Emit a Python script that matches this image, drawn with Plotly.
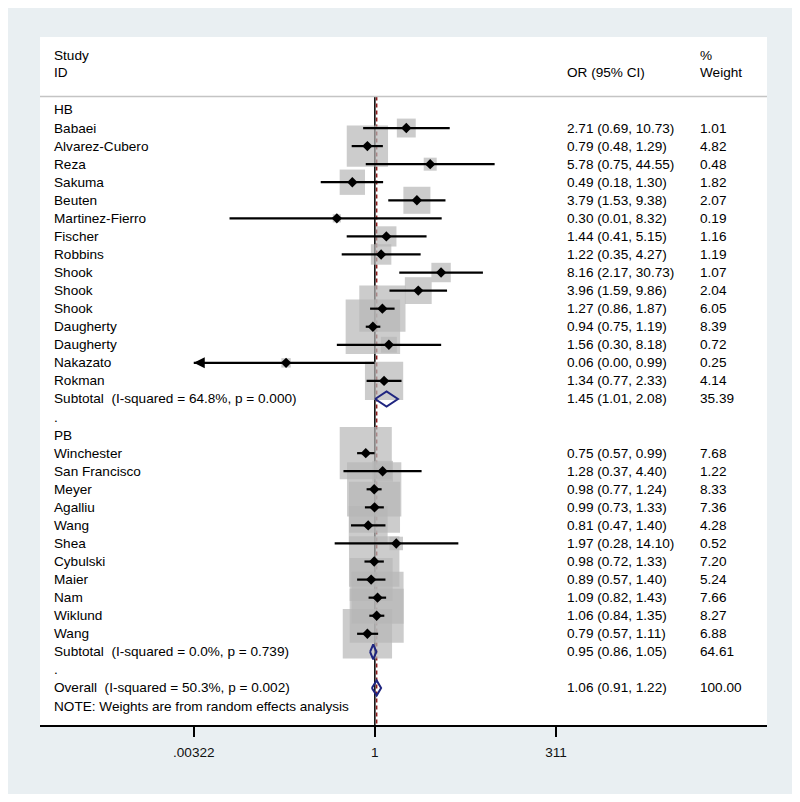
import numpy as np
import plotly.graph_objects as go

# --- data ---
hb_names = ["Babaei", "Alvarez-Cubero", "Reza", "Sakuma", "Beuten", "Martinez-Fierro",
            "Fischer", "Robbins", "Shook", "Shook", "Shook", "Daugherty", "Daugherty",
            "Nakazato", "Rokman"]
hb_or = [2.71, 0.79, 5.78, 0.49, 3.79, 0.30, 1.44, 1.22, 8.16, 3.96, 1.27, 0.94, 1.56, 0.06, 1.34]
hb_lo = [0.69, 0.48, 0.75, 0.18, 1.53, 0.01, 0.41, 0.35, 2.17, 1.59, 0.86, 0.75, 0.30, 0.00, 0.77]
hb_hi = [10.73, 1.29, 44.55, 1.30, 9.38, 8.32, 5.15, 4.27, 30.73, 9.86, 1.87, 1.19, 8.18, 0.99, 2.33]
hb_w = [1.01, 4.82, 0.48, 1.82, 2.07, 0.19, 1.16, 1.19, 1.07, 2.04, 6.05, 8.39, 0.72, 0.25, 4.14]
hb_sub = (1.45, 1.01, 2.08, 35.39, "Subtotal  (I-squared = 64.8%, p = 0.000)")

pb_names = ["Winchester", "San Francisco", "Meyer", "Agalliu", "Wang", "Shea", "Cybulski",
            "Maier", "Nam", "Wiklund", "Wang"]
pb_or = [0.75, 1.28, 0.98, 0.99, 0.81, 1.97, 0.98, 0.89, 1.09, 1.06, 0.79]
pb_lo = [0.57, 0.37, 0.77, 0.73, 0.47, 0.28, 0.72, 0.57, 0.82, 0.84, 0.57]
pb_hi = [0.99, 4.40, 1.24, 1.33, 1.40, 14.10, 1.33, 1.40, 1.43, 1.35, 1.11]
pb_w = [7.68, 1.22, 8.33, 7.36, 4.28, 0.52, 7.20, 5.24, 7.66, 8.27, 6.88]
pb_sub = (0.95, 0.86, 1.05, 64.61, "Subtotal  (I-squared = 0.0%, p = 0.739)")

overall = (1.06, 0.91, 1.22, 100.00, "Overall  (I-squared = 50.3%, p = 0.002)")

tick_vals = [0.00322, 1, 311]
tick_text = [".00322", "1", "311"]

# --- build rows ---
rows = []
def add_group(title, names, ors, los, his, ws, sub):
    rows.append(dict(kind="label", text=title))
    for n, o, l, h, w in zip(names, ors, los, his, ws):
        rows.append(dict(kind="study", text=n, est=o, lo=l, hi=h, w=w))
    rows.append(dict(kind="pooled", text=sub[4], est=sub[0], lo=sub[1], hi=sub[2], w=sub[3]))
    rows.append(dict(kind="label", text="."))

add_group("HB", hb_names, hb_or, hb_lo, hb_hi, hb_w, hb_sub)
add_group("PB", pb_names, pb_or, pb_lo, pb_hi, pb_w, pb_sub)
rows.append(dict(kind="pooled", text=overall[4], est=overall[0], lo=overall[1], hi=overall[2], w=overall[3]))
rows.append(dict(kind="label", text="NOTE: Weights are from random effects analysis"))
for i, r in enumerate(rows):
    r["y"] = i

xmin, xmax = tick_vals[0], tick_vals[-1]
y_top, y_bot = -4.04, 34.05
y_head = -0.74

FONT = "Liberation Sans, Arial, sans-serif"
FS = 13.6
BOX_K = 18.8

# page has an 8px body margin, so the figure is 8px smaller
W, H = 792, 794
ML, MT, MR, MB = 32, 29, 33, 77
PW = W - ML - MR
PH = H - MT - MB

fig = go.Figure()

# null line and overall line (drawn first, boxes cover them)
fig.add_trace(go.Scatter(x=[1, 1], y=[y_head, y_bot], mode="lines",
                         line=dict(color="black", width=1.5), hoverinfo="skip"))
fig.add_trace(go.Scatter(x=[overall[0], overall[0]], y=[y_head, y_bot], mode="lines",
                         line=dict(color="#8b1a1a", width=1.5, dash="4px,3px"), hoverinfo="skip"))

studies = [r for r in rows if r["kind"] == "study"]

# weight boxes
fig.add_trace(go.Scatter(
    x=[r["est"] for r in studies], y=[r["y"] for r in studies], mode="markers",
    marker=dict(symbol="square", size=[BOX_K * np.sqrt(r["w"]) for r in studies],
                color="#b6b6b6", line=dict(width=0)),
    hoverinfo="skip"))

# confidence intervals (clipped to axis range)
cx, cy = [], []
for r in studies:
    cx += [max(r["lo"], xmin), min(r["hi"], xmax), None]
    cy += [r["y"], r["y"], None]
fig.add_trace(go.Scatter(x=cx, y=cy, mode="lines", line=dict(color="black", width=2.2),
                         hoverinfo="skip"))

# point estimates
fig.add_trace(go.Scatter(
    x=[r["est"] for r in studies], y=[r["y"] for r in studies], mode="markers",
    marker=dict(symbol="diamond", size=8, color="black"), hoverinfo="skip"))

# pooled diamonds
dx, dy = [], []
for r in rows:
    if r["kind"] == "pooled":
        dx += [r["lo"], r["est"], r["hi"], r["est"], r["lo"], None]
        dy += [r["y"], r["y"] - 0.42, r["y"], r["y"] + 0.42, r["y"], None]
fig.add_trace(go.Scatter(x=dx, y=dy, mode="lines", line=dict(color="#1f2580", width=2),
                         hoverinfo="skip"))

anns = []
# arrows for CIs beyond the axis
for r in studies:
    if r["lo"] < xmin:
        anns.append(dict(x=np.log10(xmin), y=r["y"], xref="x", yref="y", text="",
                         showarrow=True, ax=12, ay=0, arrowhead=2, arrowsize=1,
                         arrowwidth=2.2, arrowcolor="black"))

def px2paper(px):
    # px measured in the screenshot (plot area starts at 40)
    return (px - 40) / PW

tf = dict(family=FONT, size=FS, color="#000000")
for r in rows:
    anns.append(dict(x=px2paper(52), y=r["y"], xref="paper", yref="y", text=r["text"],
                     showarrow=False, xanchor="left", yanchor="middle", font=tf))
    if r["kind"] in ("study", "pooled"):
        anns.append(dict(x=px2paper(565), y=r["y"], xref="paper", yref="y",
                         text=f"{r['est']:.2f} ({r['lo']:.2f}, {r['hi']:.2f})",
                         showarrow=False, xanchor="left", yanchor="middle", font=tf))
        anns.append(dict(x=px2paper(698), y=r["y"], xref="paper", yref="y",
                         text=f"{r['w']:.2f}", showarrow=False, xanchor="left",
                         yanchor="middle", font=tf))

# column headers
for txt, px, yy in [("Study", 52, -3), ("ID", 52, -2.05), ("OR (95% CI)", 565, -2.05),
                    ("%", 698, -3), ("Weight", 698, -2.05)]:
    anns.append(dict(x=px2paper(px), y=yy, xref="paper", yref="y", text=txt,
                     showarrow=False, xanchor="left", yanchor="middle", font=tf))

shapes = [
    dict(type="line", xref="paper", yref="y", x0=0, x1=1, y0=y_head, y1=y_head,
         line=dict(color="#c4c4c4", width=1.5)),
    # white strip on the right and bottom edge of the outer background
    dict(type="line", xref="paper", yref="paper", x0=(W - 3 - ML) / PW, x1=(W - 3 - ML) / PW,
         y0=-MB / PH, y1=1 + MT / PH, line=dict(color="white", width=6), layer="above"),
    dict(type="line", xref="paper", yref="paper", x0=-ML / PW, x1=(W - ML) / PW,
         y0=-(MB - 4) / PH, y1=-(MB - 4) / PH, line=dict(color="white", width=8), layer="above"),
]

fig.update_layout(
    width=W, height=H,
    margin=dict(l=ML, r=MR, t=MT, b=MB),
    paper_bgcolor="#e9eff2", plot_bgcolor="white",
    showlegend=False,
    annotations=anns, shapes=shapes,
    xaxis=dict(type="log", range=[np.log10(xmin) - (193 - 40) / 72.3,
                                  np.log10(xmax) + (767 - 557) / 72.3],
               tickvals=tick_vals, ticktext=tick_text, ticks="outside", ticklen=10,
               tickwidth=1.5, tickcolor="black", showline=True, linecolor="black",
               linewidth=1.5, showgrid=False, zeroline=False, ticklabelstandoff=4,
               tickfont=dict(family=FONT, size=FS, color="#111111")),
    yaxis=dict(range=[y_bot, y_top], visible=False, showgrid=False, zeroline=False),
)

fig.write_html("out.html")
